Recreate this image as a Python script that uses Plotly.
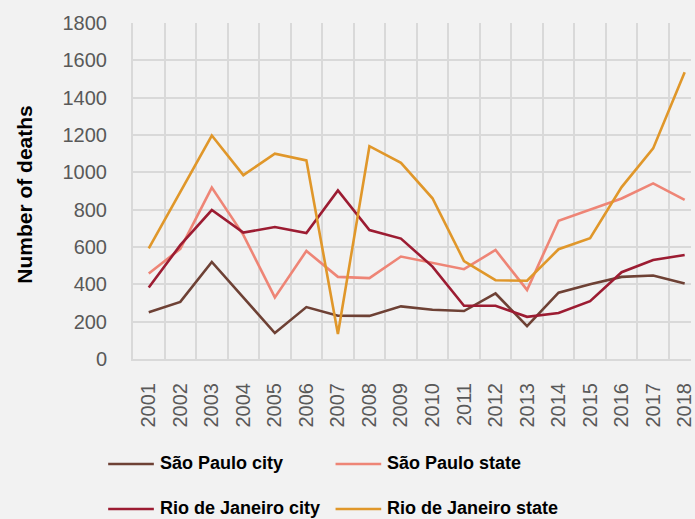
import plotly.graph_objects as go

# Homicide deaths per year, São Paulo and Rio de Janeiro
years = list(range(2001, 2019))
sp_city = [250, 306, 520, 330, 139, 278, 232, 231, 282, 264, 257, 351, 176, 355, 401, 440, 447, 405]
sp_state = [458, 590, 918, 665, 330, 579, 440, 433, 549, 515, 481, 584, 370, 741, 800, 860, 941, 852]
rj_city = [383, 610, 798, 677, 707, 675, 903, 691, 645, 495, 285, 285, 226, 246, 310, 465, 530, 557]
rj_state = [593, 895, 1197, 985, 1100, 1064, 134, 1140, 1051, 861, 525, 422, 419, 588, 647, 921, 1128, 1536]

series_names = ["São Paulo city", "São Paulo state", "Rio de Janeiro city", "Rio de Janeiro state"]
series_values = [sp_city, sp_state, rj_city, rj_state]
series_colors = ["#6e4135", "#ee8576", "#9c1c32", "#e0972a"]

y_ticks = list(range(0, 1801, 200))

BG = "#f2f2f2"
GRID = "#d9d9d9"
TICK_FONT = dict(family="Liberation Sans, Arial, sans-serif", size=20, color="#595959")
BOLD_FONT = "Liberation Sans, Arial, sans-serif"

fig = go.Figure()
for name, vals, col in zip(series_names, series_values, series_colors):
    fig.add_trace(go.Scatter(
        x=years, y=vals, mode="lines", name=name,
        line=dict(color=col, width=2.6), showlegend=False,
    ))

# plot area spans from x=133px to the right edge (last column partly cut)
W, H = 695, 519
left, top, bottom = 133, 23, 160
col_w = 31.75
x_end = 2000.5 + (W - left) / col_w

fig.update_layout(
    width=W, height=H,
    paper_bgcolor=BG, plot_bgcolor=BG,
    margin=dict(l=left, r=0, t=top, b=bottom),
    xaxis=dict(
        range=[2000.5, x_end],
        tickmode="array", tickvals=years, ticktext=[str(y) for y in years],
        tickangle=-90, tickfont=TICK_FONT, ticklabeloverflow="allow",
        showgrid=False, zeroline=False,
        ticks="outside", ticklen=14, tickcolor="rgba(0,0,0,0)",
        showline=True, linecolor=GRID, linewidth=2,
        minor=dict(tick0=2000.5, dtick=1, showgrid=True, gridcolor=GRID, gridwidth=2, ticks=""),
    ),
    yaxis=dict(
        range=[0, 1800], tickmode="array", tickvals=y_ticks,
        tickfont=TICK_FONT, showgrid=True, gridcolor=GRID, gridwidth=2,
        zeroline=False, showline=True, linecolor=GRID, linewidth=2,
        ticks="outside", ticklen=20, tickcolor="rgba(0,0,0,0)",
    ),
)

plot_w = W - left
plot_h = H - top - bottom


def px_to_paper(px, py):
    return (px - left) / plot_w, (H - bottom - py) / plot_h


# y axis title
tx, ty = px_to_paper(23, 194)
fig.add_annotation(
    x=tx, y=ty, xref="paper", yref="paper", text="<b>Number of deaths</b>",
    textangle=-90, showarrow=False, xanchor="center", yanchor="middle",
    font=dict(family=BOLD_FONT, size=21, color="#000000"),
)

# legend: two columns, two rows
legend_pos = [(108, 464), (337, 464), (108, 509), (337, 509)]
for name, col, (lx, ly) in zip(series_names, series_colors, legend_pos):
    x0, y0 = px_to_paper(lx, ly)
    x1, _ = px_to_paper(lx + 46, ly)
    fig.add_shape(type="line", xref="paper", yref="paper", x0=x0, x1=x1, y0=y0, y1=y0,
                  line=dict(color=col, width=2.6))
    xt, yt = px_to_paper(lx + 50, ly - 1)
    fig.add_annotation(
        x=xt, y=yt, xref="paper", yref="paper", text=f"<b>{name}</b>",
        showarrow=False, xanchor="left", yanchor="middle",
        font=dict(family=BOLD_FONT, size=18, color="#000000"),
    )

fig.write_html("out.html")
